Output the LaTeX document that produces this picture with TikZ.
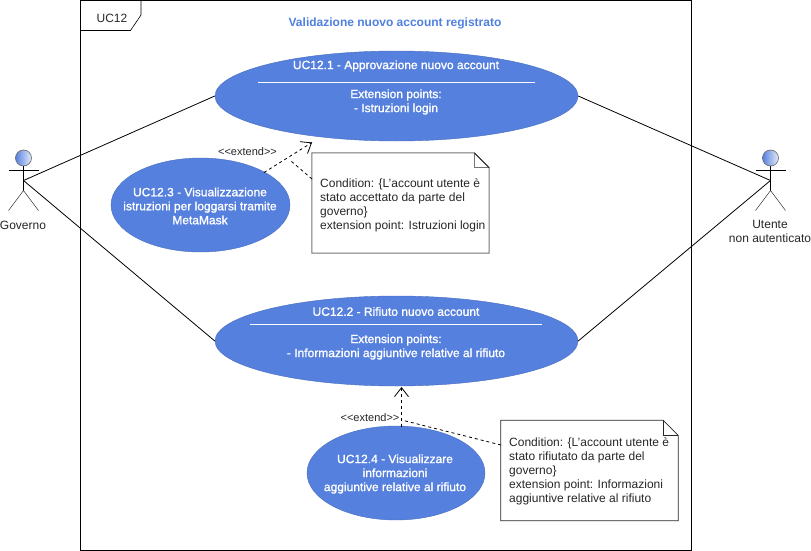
\documentclass[tikz,border=0pt]{standalone}
\usepackage{fontspec}
\setmainfont{Liberation Sans}
\newfontfamily\ucfont{Liberation Sans}[FakeBold=1.2]
\usetikzlibrary{arrows.meta,shapes.geometric}
\definecolor{uc}{HTML}{5580DE}
\definecolor{tit}{HTML}{4F7FE0}
\tikzset{
 ucase/.style={ellipse,fill=uc,draw=uc!85!black,line width=.4pt,inner sep=0pt},
 uctext/.style={text=white,align=center,font=\ucfont\fontsize{12}{14}\selectfont,inner sep=0pt},
 dep/.style={dashed,dash pattern=on 3pt off 3pt,line width=.8pt,black},
 deparrow/.style={dep,postaction={draw,solid,-{Straight Barb[length=9pt,width=14pt,line width=.8pt]},dash pattern=on 0pt off 1000pt}},
 assoc/.style={line width=.8pt,black},
 notebox/.style={minimum width=177pt,minimum height=100pt,inner sep=0pt},
 notetext/.style={align=left,anchor=north west,font=\fontsize{12}{14}\selectfont,inner sep=0pt,text=black!85},
 lab/.style={font=\fontsize{12}{14}\selectfont,inner sep=0pt,align=center,text=black!85},
 stereo/.style={font=\fontsize{11}{12}\selectfont,inner sep=0pt,text=black!85},
 head/.style={circle,minimum size=16pt,inner sep=0pt,draw=black!55,line width=.7pt,left color=uc,right color=uc!15},
 limb/.style={line width=.6pt,black},
 limbs/.style={line width=.5pt,black!80},
}
\begin{document}
\begin{tikzpicture}[x=1pt,y=-1pt]
\useasboundingbox (0,0) rectangle (811,551);
% frame
\coordinate (fa) at (80.5,0.5); \coordinate (fb) at (691.5,550.5);
\draw[line width=.9pt] (fa) rectangle (fb);
\draw[line width=.6pt] (141,0.5) -- (141,15) -- (130.5,30.5) -- (80.5,30.5);
\node[lab] (uclabel) at (112,18) {UC12};
\node[font=\fontsize{12}{14}\selectfont\bfseries,text=tit,inner sep=0pt] (title) at (395,23) {Validazione nuovo account registrato};
% use cases
\node[ucase,minimum width=363pt,minimum height=90pt] (uc1) at (396.5,96) {};
\node[ucase,minimum width=363pt,minimum height=90pt] (uc2) at (396.5,341) {};
\node[ucase,minimum width=179pt,minimum height=94pt] (uc3) at (200.5,205) {};
\node[ucase,minimum width=178pt,minimum height=94pt] (uc4) at (396,473) {};
\node[uctext] (t1a) at (396,66) {UC12.1 - Approvazione nuovo account};
\node[uctext] (t1b) at (396,102) {Extension points:\\- Istruzioni login};
\node[uctext] (t2a) at (396,311.5) {UC12.2 - Rifiuto nuovo account};
\node[uctext] (t2b) at (396,347) {Extension points:\\- Informazioni aggiuntive relative al rifiuto};
\node[uctext] (t3) at (200,206) {UC12.3 - Visualizzazione\\istruzioni per loggarsi tramite\\MetaMask};
\node[uctext] (t4) at (395,474) {UC12.4 - Visualizzare\\informazioni\\aggiuntive relative al rifiuto};
\coordinate (s1a) at (258,82.5); \coordinate (s1b) at (535,82.5);
\coordinate (s2a) at (250,324.5); \coordinate (s2b) at (542,324.5);
\draw[white,line width=.7pt] (s1a) -- (s1b);
\draw[white,line width=.7pt] (s2a) -- (s2b);
% actors
\node[head] (h1) at (23.5,158) {};
\coordinate (a1c) at (23.5,180.5);
\coordinate (a1b) at (23.5,190.5);
\coordinate (a1l) at (8.5,170.5); \coordinate (a1r) at (38.5,170.5);
\coordinate (a1f) at (8.5,210.5); \coordinate (a1g) at (38.5,210.5);
\draw[limb] (h1) -- (a1b) (a1l) -- (a1r);
\draw[limbs] (a1f) -- (a1b) -- (a1g);
\node[lab] (gov) at (23,225) {Governo};
\node[head] (h2) at (770.5,158) {};
\coordinate (a2c) at (770.5,180.5);
\coordinate (a2b) at (770.5,190.5);
\coordinate (a2l) at (755.5,170.5); \coordinate (a2r) at (785.5,170.5);
\coordinate (a2f) at (755.5,210.5); \coordinate (a2g) at (785.5,210.5);
\draw[limb] (h2) -- (a2b) (a2l) -- (a2r);
\draw[limbs] (a2f) -- (a2b) -- (a2g);
\node[lab] (ute) at (770,231) {Utente\\non autenticato};
% associations
\draw[assoc] (a1c) -- (uc1.west);
\draw[assoc] (a1c) -- (uc2.west);
\draw[assoc] (a2c) -- (uc1.east);
\draw[assoc] (a2c) -- (uc2.east);
% notes
\node[notebox] (n1) at (400.5,203) {};
\draw[line width=1pt,black!55] (n1.north west) -- ([xshift=-15pt]n1.north east) -- ([yshift=-15pt]n1.north east) -- (n1.south east) -- (n1.south west) -- cycle;
\draw[line width=1pt,black!55] ([xshift=-15pt]n1.north east) -- ([xshift=-15pt,yshift=-15pt]n1.north east) -- ([yshift=-15pt]n1.north east);
\draw[line width=.5pt] ([xshift=-15pt]n1.north east) -- ([yshift=-15pt]n1.north east);
\node[notetext] (n1t) at (320,178) {Condition: \{L'account utente è\\stato accettato da parte del\\governo\}\\extension point: Istruzioni login};
\node[notebox] (n2) at (589.5,470.5) {};
\draw[line width=.7pt,black!85] (n2.north west) -- ([xshift=-15pt]n2.north east) -- ([yshift=-15pt]n2.north east) -- (n2.south east) -- (n2.south west) -- cycle;
\draw[line width=.5pt,black!85] ([xshift=-15pt]n2.north east) -- ([xshift=-15pt,yshift=-15pt]n2.north east) -- ([yshift=-15pt]n2.north east);
\node[notetext] (n2t) at (509,437) {Condition: \{L'account utente è\\stato rifiutato da parte del\\governo\}\\extension point: Informazioni\\aggiuntive relative al rifiuto};
% extends
\coordinate (e1s) at (264,172.5); \coordinate (e1e) at (312,142.5);
\draw[deparrow] (e1s) -- (e1e);
\coordinate (d1a) at (312,179); \coordinate (d1b) at (291,161);
\draw[dep] (d1a) -- (d1b);
\coordinate (e2s) at (401.5,427); \coordinate (e2e) at (401.5,387);
\draw[deparrow] (e2s) -- (e2e);
\coordinate (d2a) at (501,445); \coordinate (d2b) at (401.5,420);
\draw[dep] (d2a) -- (d2b);
\node[stereo] (x1) at (247.5,152) {<{}<extend>{}>};
\node[stereo] (x2) at (370,418) {<{}<extend>{}>};
\end{tikzpicture}
\end{document}
